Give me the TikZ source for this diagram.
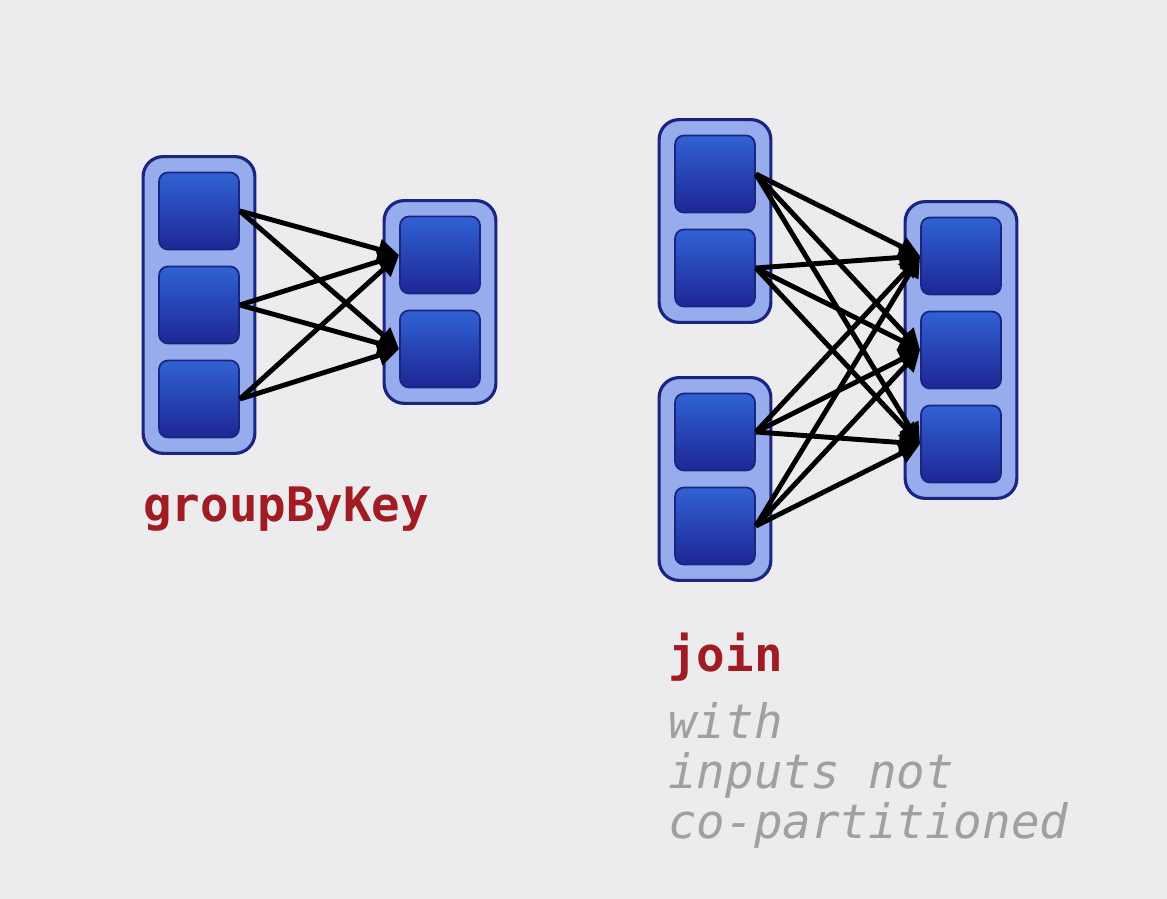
\documentclass[tikz,border=0pt]{standalone}
\usepackage{fontspec}
\setmonofont{DejaVu Sans Mono}
\usepackage{xcolor}
\definecolor{cback}{RGB}{236,236,238}
\definecolor{cbox}{RGB}{150,172,236}
\definecolor{cnavy}{RGB}{28,36,128}
\definecolor{ctop}{RGB}{48,98,212}
\definecolor{cbottom}{RGB}{30,38,148}
\definecolor{cred}{RGB}{160,28,34}
\definecolor{cgray}{RGB}{160,160,160}
\usepackage{tikz}
\usetikzlibrary{positioning, fit, backgrounds, arrows.meta}
\tikzset{
node distance=1.88cm,
Partition/.style={
	draw=cnavy, line width=1pt,
	rounded corners=0.18cm,
	minimum width=1.6cm, minimum height=1.54cm,
	top color=ctop, bottom color=cbottom
},
PartitionBox/.style={
	draw=cnavy, line width=1.8pt,
	rounded corners=0.4cm,
	fill=cbox, inner sep=0.3cm
},
Shuffle/.style={
	draw=black, line width=2.8pt,
	-{Triangle[length=0.42cm,width=0.4cm]}
},
OpLabel/.style={
	anchor=base west, inner sep=0,
	text=cred, font=\ttfamily\bfseries\fontsize{27}{28.5}\selectfont
},
OpNote/.style={
	anchor=north west, inner sep=0, align=left,
	text=cgray, font=\ttfamily\itshape\fontsize{27}{28.5}\selectfont
}
}

\begin{document}
\begin{tikzpicture}
	\useasboundingbox (0,0) rectangle (23.34,17.98);

	\node[Partition] (A1) at (3.98,13.76) {};
	\node[Partition, below of= A1] (A2) {};
	\node[Partition, below of= A2] (A3) {};

	\node[Partition] (B1) at (8.80,12.88) {};
	\node[Partition, below of= B1] (B2) {};

	\node[Partition] (C1) at (14.30,14.50) {};
	\node[Partition, below of= C1] (C2) {};
	\node[Partition] (E1) at (14.30,9.34) {};
	\node[Partition, below of= E1] (E2) {};

	\node[Partition] (D1) at (19.22,12.86) {};
	\node[Partition, below of= D1] (D2) {};
	\node[Partition, below of= D2] (D3) {};

	\begin{scope}[on background layer]
		\fill[cback] (0,0) rectangle (23.34,17.98);
		\node[PartitionBox, fit=(A1)(A3)] (A) {};
		\node[PartitionBox, fit=(B1)(B2)] (B) {};
		\node[PartitionBox, fit=(C1)(C2)] (C) {};
		\node[PartitionBox, fit=(E1)(E2)] (E) {};
		\node[PartitionBox, fit=(D1)(D3)] (D) {};
	\end{scope}

	\draw[Shuffle] (A1.east) -- (B1.west);
	\draw[Shuffle] (A1.east) -- (B2.west);
	\draw[Shuffle] (A2.east) -- (B1.west);
	\draw[Shuffle] (A2.east) -- (B2.west);
	\draw[Shuffle] (A3.east) -- (B1.west);
	\draw[Shuffle] (A3.east) -- (B2.west);

	\draw[Shuffle] (C1.east) -- (D1.west);
	\draw[Shuffle] (C1.east) -- (D2.west);
	\draw[Shuffle] (C1.east) -- (D3.west);
	\draw[Shuffle] (C2.east) -- (D1.west);
	\draw[Shuffle] (C2.east) -- (D2.west);
	\draw[Shuffle] (C2.east) -- (D3.west);
	\draw[Shuffle] (E1.east) -- (D1.west);
	\draw[Shuffle] (E1.east) -- (D2.west);
	\draw[Shuffle] (E1.east) -- (D3.west);
	\draw[Shuffle] (E2.east) -- (D1.west);
	\draw[Shuffle] (E2.east) -- (D2.west);
	\draw[Shuffle] (E2.east) -- (D3.west);

	\node[OpLabel] (groupByKey) at (2.86,7.54) {groupByKey};
	\node[OpLabel] (join) at (13.36,4.54) {join};
	\node[OpNote] (note) at (13.36,3.94) {with\\inputs not\\co-partitioned};
\end{tikzpicture}
\end{document}
